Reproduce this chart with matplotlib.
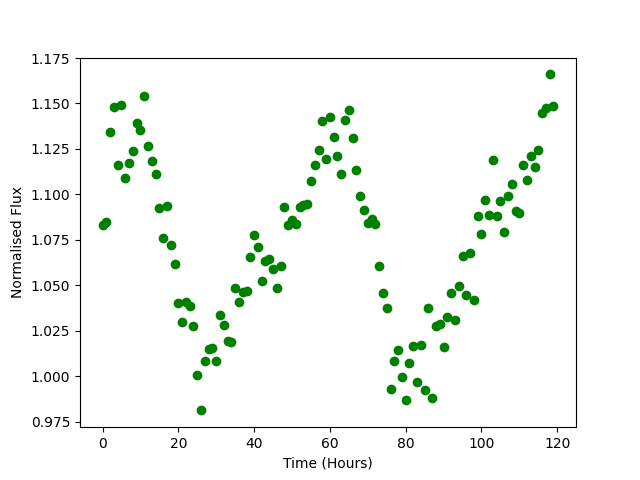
import numpy as np
import matplotlib
matplotlib.use('Agg')
import matplotlib.pyplot as plt

hours = np.arange(0, 120)
flux = [1.0831, 1.0846, 1.1345, 1.1483, 1.1163, 1.1494, 1.1091, 1.1174, 1.1236, 1.1391,
        1.1356, 1.1539, 1.1268, 1.1185, 1.1113, 1.0923, 1.0760, 1.0938, 1.0719, 1.0616,
        1.0401, 1.0296, 1.0409, 1.0384, 1.0274, 1.0008, 0.9812, 1.0086, 1.0150, 1.0157,
        1.0082, 1.0334, 1.0284, 1.0196, 1.0190, 1.0485, 1.0406, 1.0461, 1.0467, 1.0655,
        1.0776, 1.0710, 1.0522, 1.0634, 1.0644, 1.0592, 1.0483, 1.0607, 1.0933, 1.0833,
        1.0859, 1.0835, 1.0929, 1.0940, 1.0949, 1.1071, 1.1163, 1.1242, 1.1402, 1.1192,
        1.1424, 1.1318, 1.1213, 1.1113, 1.1411, 1.1463, 1.1308, 1.1135, 1.0993, 1.0914,
        1.0844, 1.0862, 1.0837, 1.0605, 1.0456, 1.0375, 0.9931, 1.0086, 1.0143, 0.9994,
        0.9870, 1.0075, 1.0165, 0.9966, 1.0171, 0.9923, 1.0373, 0.9881, 1.0274, 1.0286,
        1.0159, 1.0323, 1.0456, 1.0307, 1.0496, 1.0660, 1.0446, 1.0676, 1.0419, 1.0883,
        1.0783, 1.0970, 1.0888, 1.1187, 1.0881, 1.0964, 1.0793, 1.0993, 1.1058, 1.0910,
        1.0897, 1.1163, 1.1080, 1.1213, 1.1148, 1.1242, 1.1446, 1.1474, 1.1660, 1.1485]

plt.figure(figsize=(6.4, 4.8), dpi=100)
plt.scatter(hours, flux, color='green')
plt.xlabel('Time (Hours)')
plt.ylabel('Normalised Flux')
plt.savefig('out.png')
